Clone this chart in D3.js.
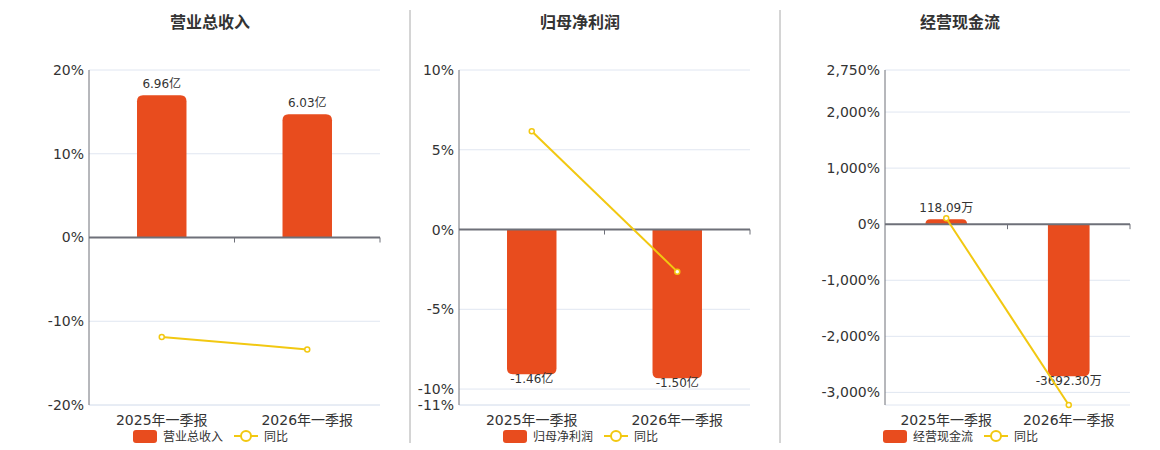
<!DOCTYPE html>
<html>
<head>
<meta charset="utf-8">
<script src="https://cdn.jsdelivr.net/npm/d3@7"></script>
<style>
  body { margin: 0; background: #fff; }
  svg text { font-family: "DejaVu Sans", "Noto Sans CJK SC", sans-serif; }
</style>
</head>
<body>
<svg id="chart" width="1160" height="450"></svg>
<script>
// categories shared by all three panels
const categories = ["2025年一季报", "2026年一季报"];

// panel titles
const titles = ["营业总收入", "归母净利润", "经营现金流"];

// bar values (amounts) and their labels
const revenue = [6.96, 6.03];
const revenueLabels = ["6.96亿", "6.03亿"];
const netProfit = [-1.46, -1.50];
const netProfitLabels = ["-1.46亿", "-1.50亿"];
const cashFlow = [118.09, -3692.30];
const cashFlowLabels = ["118.09万", "-3692.30万"];

// year-on-year growth (%)
const revenueYoy = [-11.87, -13.36];
const netProfitYoy = [6.16, -2.64];
const cashFlowYoy = [107, -3225];

// left axis (percent) tick labels
const revenueTicks = [-20, -10, 0, 10, 20];
const netProfitTicks = [-11, -10, -5, 0, 5, 10];
const cashFlowTicks = [-3000, -2000, -1000, 0, 1000, 2000, 2750];

const svg = d3.select("#chart");
const barColor = "#e84c1e";
const lineColor = "#f2c811";
const axisColor = "#6e7079";
const gridColor = "#e0e6f1";
const textColor = "#333";

const plotTop = 70, plotBottom = 405;

//Plain hyphen for negatives, comma for thousands
const fmt = d3.formatLocale({decimal: ".", thousands: ",", grouping: [3], currency: ["", ""], minus: "-"}).format(",");

const panels = [
    {title: titles[0], bars: revenue, labels: revenueLabels, yoy: revenueYoy,
     ticks: revenueTicks, pctDomain: [-20, 20], barDomain: [-8.2, 8.2],
     left: 89, right: 380, center: 210},
    {title: titles[1], bars: netProfit, labels: netProfitLabels, yoy: netProfitYoy,
     ticks: netProfitTicks, pctDomain: [-11, 10], barDomain: [-1.77, 1.61],
     left: 459, right: 750, center: 580},
    {title: titles[2], bars: cashFlow, labels: cashFlowLabels, yoy: cashFlowYoy,
     ticks: cashFlowTicks, pctDomain: [-3225, 2750], barDomain: [-4393, 3738],
     left: 885, right: 1130, center: 960}
];

//Vertical separators between the panels
[410, 780].forEach(x => {
    svg.append("line")
        .attr("x1", x).attr("x2", x)
        .attr("y1", 10).attr("y2", 443)
        .attr("stroke", "#aaa")
        .attr("stroke-width", 1);
});

//Bar path with rounded corners only at the far end
function barPath(x, w, y0, y1, r) {
    const h = Math.abs(y1 - y0);
    r = Math.min(r, h, w / 2);
    if (y1 < y0) {
        return `M${x},${y0}V${y1 + r}Q${x},${y1} ${x + r},${y1}H${x + w - r}Q${x + w},${y1} ${x + w},${y1 + r}V${y0}Z`;
    }
    return `M${x},${y0}V${y1 - r}Q${x},${y1} ${x + r},${y1}H${x + w - r}Q${x + w},${y1} ${x + w},${y1 - r}V${y0}Z`;
}

panels.forEach(p => {
    const g = svg.append("g");

    const xScale = d3.scaleBand().domain(categories).range([p.left, p.right]).padding(0);
    const yPct = d3.scaleLinear().domain(p.pctDomain).range([plotBottom, plotTop]);
    const yBar = d3.scaleLinear().domain(p.barDomain).range([plotBottom, plotTop]);

    //Title
    g.append("text")
        .attr("x", p.center).attr("y", 28)
        .attr("text-anchor", "middle")
        .attr("font-size", 16).attr("font-weight", "bold")
        .attr("fill", textColor)
        .text(p.title);

    //Grid lines
    g.selectAll(".grid")
        .data(p.ticks.filter(d => d !== 0).concat([p.pctDomain[0]]))
        .join("line")
        .attr("x1", p.left).attr("x2", p.right)
        .attr("y1", d => yPct(d)).attr("y2", d => yPct(d))
        .attr("stroke", gridColor);

    //Y axis
    const yAxis = g.append("g")
        .attr("transform", `translate(${p.left},0)`)
        .call(d3.axisLeft(yPct).tickValues(p.ticks).tickSize(0).tickPadding(5)
            .tickFormat(d => fmt(d) + "%"));
    yAxis.select(".domain").attr("stroke", axisColor).attr("d", `M0,${plotTop}V${plotBottom}`);
    yAxis.selectAll("text").attr("font-size", 14).attr("fill", textColor)
        .attr("font-family", '"DejaVu Sans", "Noto Sans CJK SC", sans-serif');

    //Bars
    const bw = xScale.bandwidth() * 0.34;
    g.selectAll(".bar")
        .data(p.bars)
        .join("path")
        .attr("fill", barColor)
        .attr("d", (d, i) => barPath(xScale(categories[i]) + (xScale.bandwidth() - bw) / 2, bw,
            yBar(0), yBar(d), 6));

    //Bar labels
    g.selectAll(".barLabel")
        .data(p.bars)
        .join("text")
        .attr("x", (d, i) => xScale(categories[i]) + xScale.bandwidth() / 2)
        .attr("y", d => d >= 0 ? yBar(d) - 7 : yBar(d) + 9)
        .attr("text-anchor", "middle")
        .attr("font-size", 12)
        .attr("fill", textColor)
        .text((d, i) => p.labels[i]);

    //X axis at zero
    const zeroY = yPct(0);
    g.append("line")
        .attr("x1", p.left).attr("x2", p.right)
        .attr("y1", zeroY).attr("y2", zeroY)
        .attr("stroke", axisColor).attr("stroke-width", 2);
    g.selectAll(".xtick")
        .data(categories.slice(1).map(c => xScale(c)).concat([p.right]))
        .join("line")
        .attr("x1", d => d).attr("x2", d => d)
        .attr("y1", zeroY).attr("y2", zeroY + 5)
        .attr("stroke", axisColor);

    //Category labels
    g.selectAll(".xlabel")
        .data(categories)
        .join("text")
        .attr("x", d => xScale(d) + xScale.bandwidth() / 2)
        .attr("y", 425)
        .attr("text-anchor", "middle")
        .attr("font-size", 14)
        .attr("fill", textColor)
        .text(d => d);

    //Year-on-year line
    const line = d3.line()
        .x((d, i) => xScale(categories[i]) + xScale.bandwidth() / 2)
        .y(d => yPct(d));
    g.append("path")
        .datum(p.yoy)
        .attr("fill", "none")
        .attr("stroke", lineColor)
        .attr("stroke-width", 2)
        .attr("d", line);
    g.selectAll(".pt")
        .data(p.yoy)
        .join("circle")
        .attr("cx", (d, i) => xScale(categories[i]) + xScale.bandwidth() / 2)
        .attr("cy", d => yPct(d))
        .attr("r", 2.5)
        .attr("fill", "#fff")
        .attr("stroke", lineColor)
        .attr("stroke-width", 1.5);

    //Legend
    const lx = p.center - 77;
    g.append("rect")
        .attr("x", lx).attr("y", 430)
        .attr("width", 24).attr("height", 13).attr("rx", 3)
        .attr("fill", barColor);
    g.append("text")
        .attr("x", lx + 30).attr("y", 441)
        .attr("font-size", 12).attr("fill", textColor)
        .text(p.title);
    g.append("line")
        .attr("x1", lx + 101).attr("x2", lx + 125)
        .attr("y1", 436).attr("y2", 436)
        .attr("stroke", lineColor).attr("stroke-width", 2);
    g.append("circle")
        .attr("cx", lx + 113).attr("cy", 436).attr("r", 5)
        .attr("fill", "#fff")
        .attr("stroke", lineColor).attr("stroke-width", 2);
    g.append("text")
        .attr("x", lx + 131).attr("y", 441)
        .attr("font-size", 12).attr("fill", textColor)
        .text("同比");
});
</script>
</body>
</html>
